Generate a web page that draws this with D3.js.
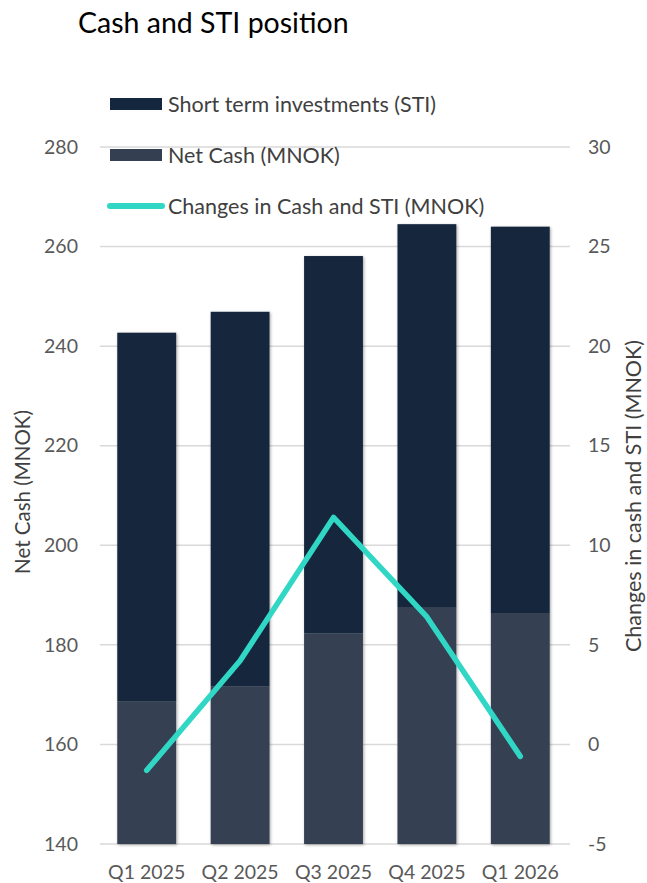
<!DOCTYPE html>
<html>
<head>
<meta charset="utf-8">
<script src="https://cdn.jsdelivr.net/npm/d3@7"></script>
<style>
  html, body { margin: 0; padding: 0; background: #ffffff; }
  svg { display: block; font-family: Lato, "Open Sans", sans-serif; }
</style>
</head>
<body>
<svg id="chart" width="647" height="883"></svg>
<script>
// Quarterly cash position (MNOK)
const quarters = ["Q1 2025", "Q2 2025", "Q3 2025", "Q4 2025", "Q1 2026"];
const netCash = [168.6, 171.7, 182.3, 187.6, 186.4];
const shortTermInvestments = [74.1, 75.2, 75.8, 76.9, 77.6];
const changeInCashAndSTI = [-1.3, 4.2, 11.4, 6.4, -0.6];
const leftTicks = [140, 160, 180, 200, 220, 240, 260, 280];
const rightTicks = [-5, 0, 5, 10, 15, 20, 25, 30];

const colors = { sti: "#15273e", net: "#353f52", line: "#31d7c5", grid: "#d9d9d9", tick: "#595959", label: "#404040" };
const tickFont = 19.5;

const svg = d3.select("#chart");

const plot = { left: 100, right: 567, top: 147, bottom: 844 };

const x = d3.scaleBand().domain(quarters).range([plot.left, plot.right]).paddingInner(0.37).paddingOuter(0.185);
const yLeft = d3.scaleLinear().domain([140, 280]).range([plot.bottom, plot.top]);
const yRight = d3.scaleLinear().domain([-5, 30]).range([plot.bottom, plot.top]);

// soft shadow under the bars
const defs = svg.append("defs");
const shadow = defs.append("filter").attr("id", "barShadow")
  .attr("x", "-20%").attr("y", "-20%").attr("width", "140%").attr("height", "140%");
shadow.append("feDropShadow").attr("dx", 1).attr("dy", 1).attr("stdDeviation", 1.4)
  .attr("flood-color", "#000").attr("flood-opacity", 0.35);

// title
svg.append("text").attr("x", 78).attr("y", 33)
  .attr("font-size", 28.5).attr("fill", "#000").text("Cash and STI position");

// gridlines
svg.append("g").selectAll("line").data(leftTicks).join("line")
  .attr("x1", plot.left).attr("x2", plot.right + 3)
  .attr("y1", d => yLeft(d)).attr("y2", d => yLeft(d))
  .attr("stroke", colors.grid).attr("stroke-width", 1.5);

// left axis
const leftAxis = svg.append("g").attr("transform", `translate(${plot.left - 22},0)`)
  .call(d3.axisLeft(yLeft).tickValues(leftTicks).tickFormat(d => String(d)).tickSize(0).tickPadding(0));
leftAxis.select(".domain").remove();
leftAxis.selectAll("text").attr("font-size", tickFont).attr("fill", colors.tick).attr("font-family", "Lato, sans-serif");

// right axis
const rightAxis = svg.append("g").attr("transform", `translate(${plot.right + 21},0)`)
  .call(d3.axisRight(yRight).tickValues(rightTicks).tickFormat(d => String(d)).tickSize(0).tickPadding(0));
rightAxis.select(".domain").remove();
rightAxis.selectAll("text").attr("font-size", tickFont).attr("fill", colors.tick).attr("font-family", "Lato, sans-serif");

// x axis
const xAxis = svg.append("g").attr("transform", `translate(0,${plot.bottom + 21})`)
  .call(d3.axisBottom(x).tickSize(0).tickPadding(0));
xAxis.select(".domain").remove();
xAxis.selectAll("text").attr("font-size", tickFont).attr("fill", colors.tick).attr("font-family", "Lato, sans-serif");

// axis titles
svg.append("text").attr("transform", `translate(30,492) rotate(-90)`)
  .attr("text-anchor", "middle").attr("font-size", 20.5).attr("fill", colors.label)
  .text("Net Cash (MNOK)");
svg.append("text").attr("transform", `translate(641,496) rotate(-90)`)
  .attr("text-anchor", "middle").attr("font-size", 21.5).attr("fill", colors.label)
  .text("Changes in cash and STI (MNOK)");

// stacked bars: net cash at the base, short term investments on top
const stacked = quarters.map((q, i) => ({ q, net: netCash[i], sti: shortTermInvestments[i] }));
const bars = svg.append("g").attr("filter", "url(#barShadow)");
bars.selectAll("rect.net").data(stacked).join("rect").attr("class", "net")
  .attr("x", d => x(d.q)).attr("width", x.bandwidth())
  .attr("y", d => yLeft(d.net)).attr("height", d => yLeft(140) - yLeft(d.net))
  .attr("fill", colors.net);
bars.selectAll("rect.sti").data(stacked).join("rect").attr("class", "sti")
  .attr("x", d => x(d.q)).attr("width", x.bandwidth())
  .attr("y", d => yLeft(d.net + d.sti)).attr("height", d => yLeft(d.net) - yLeft(d.net + d.sti))
  .attr("fill", colors.sti);

// change line on the right axis
const line = d3.line()
  .x((d, i) => x(quarters[i]) + x.bandwidth() / 2)
  .y(d => yRight(d));
svg.append("path").datum(changeInCashAndSTI)
  .attr("d", line).attr("fill", "none")
  .attr("stroke", colors.line).attr("stroke-width", 5.5)
  .attr("stroke-linecap", "round").attr("stroke-linejoin", "round");

// legend
const legend = svg.append("g");
const legendItems = [
  { label: "Short term investments (STI)", type: "rect", color: colors.sti, y: 104 },
  { label: "Net Cash (MNOK)", type: "rect", color: colors.net, y: 155 },
  { label: "Changes in Cash and STI (MNOK)", type: "line", color: colors.line, y: 206 }
];
legendItems.forEach(item => {
  if (item.type === "rect") {
    legend.append("rect").attr("x", 110).attr("y", item.y - 6).attr("width", 52).attr("height", 12)
      .attr("fill", item.color);
  } else {
    legend.append("line").attr("x1", 110).attr("x2", 162).attr("y1", item.y).attr("y2", item.y)
      .attr("stroke", item.color).attr("stroke-width", 6).attr("stroke-linecap", "round");
  }
  legend.append("text").attr("x", 168).attr("y", item.y).attr("dy", "0.35em")
    .attr("font-size", 21.5).attr("fill", colors.label).text(item.label);
});
</script>
</body>
</html>
